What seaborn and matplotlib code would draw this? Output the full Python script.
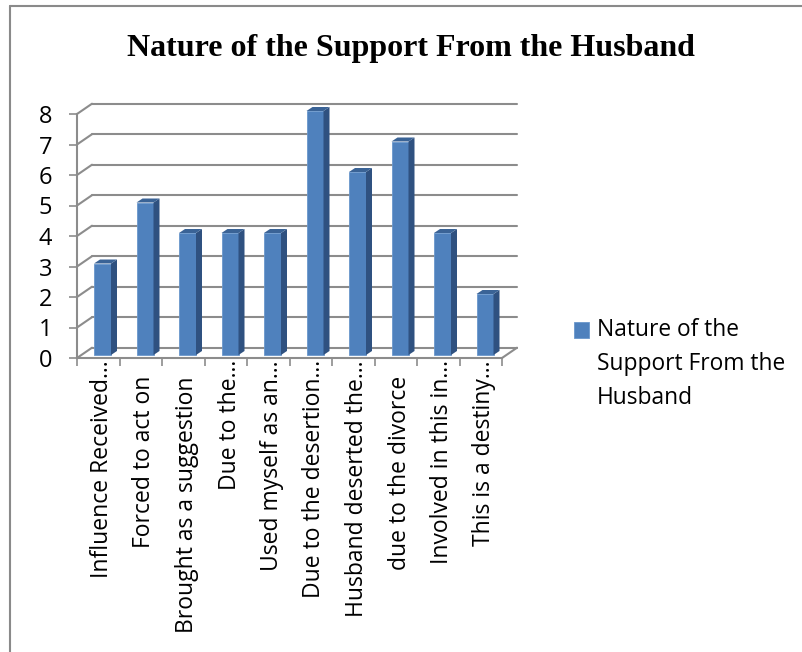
import numpy as np
import pandas as pd
import matplotlib
matplotlib.use('Agg')
import matplotlib.pyplot as plt
from matplotlib.lines import Line2D
from matplotlib.patches import Polygon
from matplotlib.transforms import ScaledTranslation
import seaborn as sns

categories = ['Influence Received…', 'Forced to act on', 'Brought as a suggestion', 'Due to the…',
              'Used myself as an…', 'Due to the desertion…', 'Husband deserted the…', 'due to the divorce',
              'Involved in this in…', 'This is a destiny…']
values = [3, 5, 4, 4, 4, 8, 6, 7, 4, 2]
y_ticks = [0, 1, 2, 3, 4, 5, 6, 7, 8]
title = 'Nature of the Support From the Husband'
legend_label = 'Nature of the\nSupport From the\nHusband'

W, H = 802, 652
GRID = '#8c8c8c'
FRONT = '#4f81bd'
SIDE = '#2f5180'
TOP = '#3a6396'
# pixel sizes of one category / one unit, used to fake the 3d depth
PX_X, PX_Y = 42.5, 30.5

sns.set_style('white')
plt.rcParams['font.family'] = ['Open Sans', 'DejaVu Sans']
plt.rcParams['text.color'] = 'black'

df = pd.DataFrame({'cat': categories, 'val': values})

fig = plt.figure(figsize=(W / 100, H / 100), dpi=100)
ax = fig.add_axes([77 / W, (H - 358) / H, 425 / W, 244 / H])
sns.barplot(data=df, x='cat', y='val', color=FRONT, width=0.4, saturation=1, ax=ax,
            label=legend_label, zorder=3, edgecolor='#6a97cc', linewidth=0.6)
handles, labels = ax.get_legend_handles_labels()
if ax.get_legend():
    ax.get_legend().remove()
ax.set_xlim(-0.6, 9.4)
ax.set_ylim(0, 8)
ax.set_xlabel('')
ax.set_ylabel('')

# back wall and floor
wx, wy = 15 / PX_X, 10.3 / PX_Y
for v in y_ticks:
    ax.plot([-0.6 + wx, 9.4 + wx], [v + wy, v + wy], color=GRID, lw=1.5, clip_on=False, zorder=1)
    ax.plot([-0.6, -0.6 + wx], [v, v + wy], color=GRID, lw=1.5, clip_on=False, zorder=1)
ax.plot([9.4, 9.4 + wx], [0, wy], color=GRID, lw=1.5, clip_on=False, zorder=1)

# bars stand a little behind the front edge, add side and top faces
lift = 3 / PX_Y
dx, dy = 6 / PX_X, 4 / PX_Y
for bar in list(ax.patches):
    bar.set_y(lift)
    bar.set_clip_on(False)
    x0, x1 = bar.get_x(), bar.get_x() + bar.get_width()
    y0, y1 = lift, lift + bar.get_height()
    ax.add_patch(Polygon([(x1, y0), (x1 + dx, y0 + dy), (x1 + dx, y1 + dy), (x1, y1)],
                         fc=SIDE, ec='none', clip_on=False, zorder=3))
    ax.add_patch(Polygon([(x0, y1), (x0 + dx, y1 + dy), (x1 + dx, y1 + dy), (x1, y1)],
                         fc=TOP, ec='none', clip_on=False, zorder=3))

sns.despine(ax=ax)
for s in ['left', 'bottom']:
    ax.spines[s].set_color(GRID)
    ax.spines[s].set_linewidth(1.5)

ax.set_yticks(y_ticks)
ax.tick_params(axis='y', length=5.8, width=1.2, color=GRID, pad=12, labelsize=17, left=True, labelcolor='black')
ax.set_xticks(range(len(categories)), categories)
ax.set_xticks(np.arange(-0.6, 9.5, 1), minor=True)
ax.tick_params(axis='x', which='minor', length=5.8, width=1.2, color=GRID, bottom=True)
ax.tick_params(axis='x', which='major', length=0, pad=13, labelsize=16.5, labelcolor='black')
# cut-off labels have the dots running up beyond the start of the other labels
for lab in ax.get_xticklabels():
    up = 16 if lab.get_text().endswith('…') else 0
    shift = ScaledTranslation(5.5 / 100, up / 100, fig.dpi_scale_trans)
    lab.set(rotation=90, rotation_mode='anchor', ha='right', va='baseline')
    lab.set_transform(lab.get_transform() + shift)

fig.text(411 / W, (H - 56) / H, title, ha='center', va='baseline', fontsize=23,
         fontweight='bold', family='Liberation Serif', color='black')

leg = fig.legend(handles, labels, loc='upper left', bbox_to_anchor=(574 / W, (H - 318) / H), frameon=False,
                 fontsize=16.4, handlelength=0.66, handleheight=0.66, handletextpad=0.35,
                 borderpad=0, borderaxespad=0)
leg.get_texts()[0].set_linespacing(1.56)
# marker sits next to the first line
leg.legend_handles[0].set_y(25.4)

# chart frame, cut off by the image on the right and bottom
fig.add_artist(Line2D([10 / W, 1], [(H - 6) / H] * 2, color='#8a8a8a', lw=1.5))
fig.add_artist(Line2D([10 / W, 10 / W], [0, (H - 6) / H], color='#8a8a8a', lw=1.5))

fig.savefig('out.png', dpi=100)
